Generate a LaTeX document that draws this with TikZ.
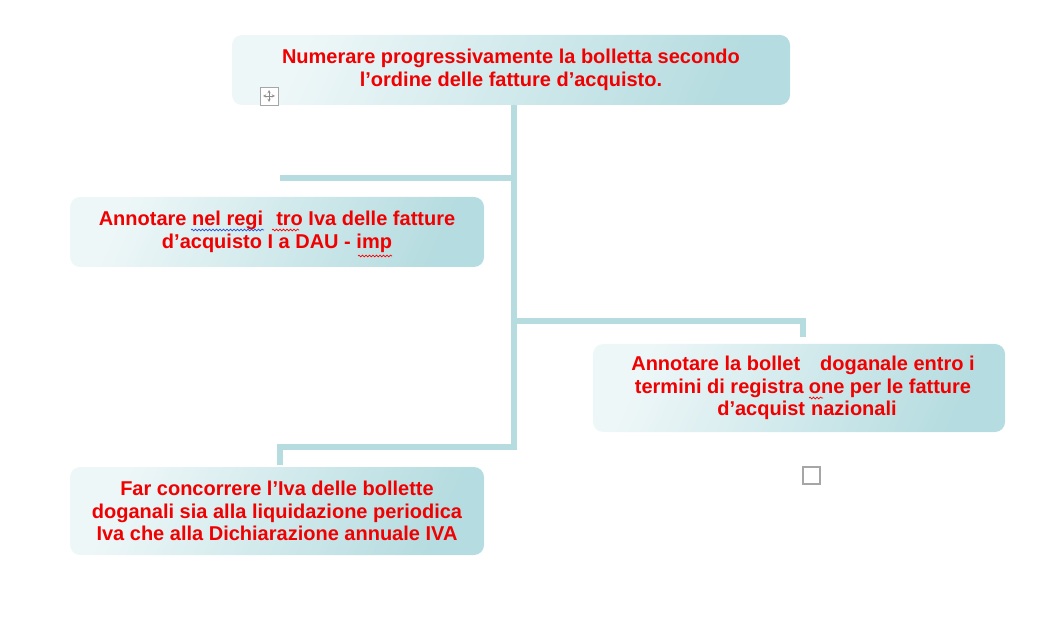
\documentclass[tikz,border=0pt]{standalone}
\usepackage{fontspec}
\setmainfont{Liberation Sans}
\usetikzlibrary{decorations.pathmorphing}

\definecolor{boxlight}{HTML}{EEF7F8}
\definecolor{boxdark}{HTML}{B5DCE0}
\definecolor{linkteal}{HTML}{B6DCE0}
\definecolor{textred}{HTML}{F00000}
\definecolor{spellblue}{HTML}{3050D0}

\tikzset{
  stepbox/.style={rounded corners=10pt, left color=boxlight, right color=boxdark,
    shading angle=65, text=textred, align=center,
    font=\fontsize{20}{22.5}\selectfont\bfseries, inner sep=0pt},
  link/.style={draw=linkteal, line width=6pt},
  squiggle/.style={decorate, decoration={snake, amplitude=0.9pt, segment length=3.5pt}, line width=0.7pt},
}

\begin{document}
\begin{tikzpicture}[x=1pt, y=-1pt]
    \useasboundingbox (0,0) rectangle (1055,628);

    \node[stepbox, minimum width=558pt, minimum height=70pt] (numerare) at (511,70)
        {Numerare progressivamente la bolletta secondo\\l’ordine delle fatture d’acquisto.};
    \node[stepbox, minimum width=414pt, minimum height=70pt] (registro) at (277,232)
        {Annotare nel regi\hspace{13pt}tro Iva delle fatture\\d’acquisto I a DAU - imp};
    \node[stepbox, minimum width=412pt, minimum height=88pt] (bolletta) at (799,388)
        {\hspace*{8pt}Annotare la bollet\hspace{20pt}doganale entro i\\
         \hspace*{8pt}termini di registra\hspace{5pt}one per le fatture\\
         \hspace*{16pt}d’acquist\hspace{6pt}nazionali};
    \node[stepbox, minimum width=414pt, minimum height=88pt] (liquidazione) at (277,511)
        {Far concorrere l’Iva delle bollette\\doganali sia alla liquidazione periodica\\Iva che alla Dichiarazione annuale IVA};

    % connectors
    \coordinate (j1) at (514,178);
    \coordinate (j2) at (514,321);
    \coordinate (j3) at (514,447);
    \coordinate (e1) at (280,178);
    \coordinate (d2) at (803,337);
    \coordinate (d3) at (280,465);

    \draw[link] (numerare.south -| j1) -- (j3) -| (d3);
    \draw[link] (j1) -- (e1);
    \draw[link] (j2) -| (d2);

    % spelling marks
    \draw[squiggle, spellblue] (191,230) -- (264,230);
    \draw[squiggle, red] (272,230) -- (299,230);
    \draw[squiggle, red] (358,256) -- (392,256);
    \draw[squiggle, red] (809,398) -- (823,398);

    % handles
    \draw[gray!70, fill=white] (260,87) rectangle (278,105);
    \draw[gray!90, line width=0.5pt, <->, >=stealth] (263,96) -- (275,96);
    \draw[gray!90, line width=0.5pt, <->, >=stealth] (269,90) -- (269,102);
    \draw[gray!70, line width=1.2pt] (803,467) rectangle (820,484);
\end{tikzpicture}
\end{document}
